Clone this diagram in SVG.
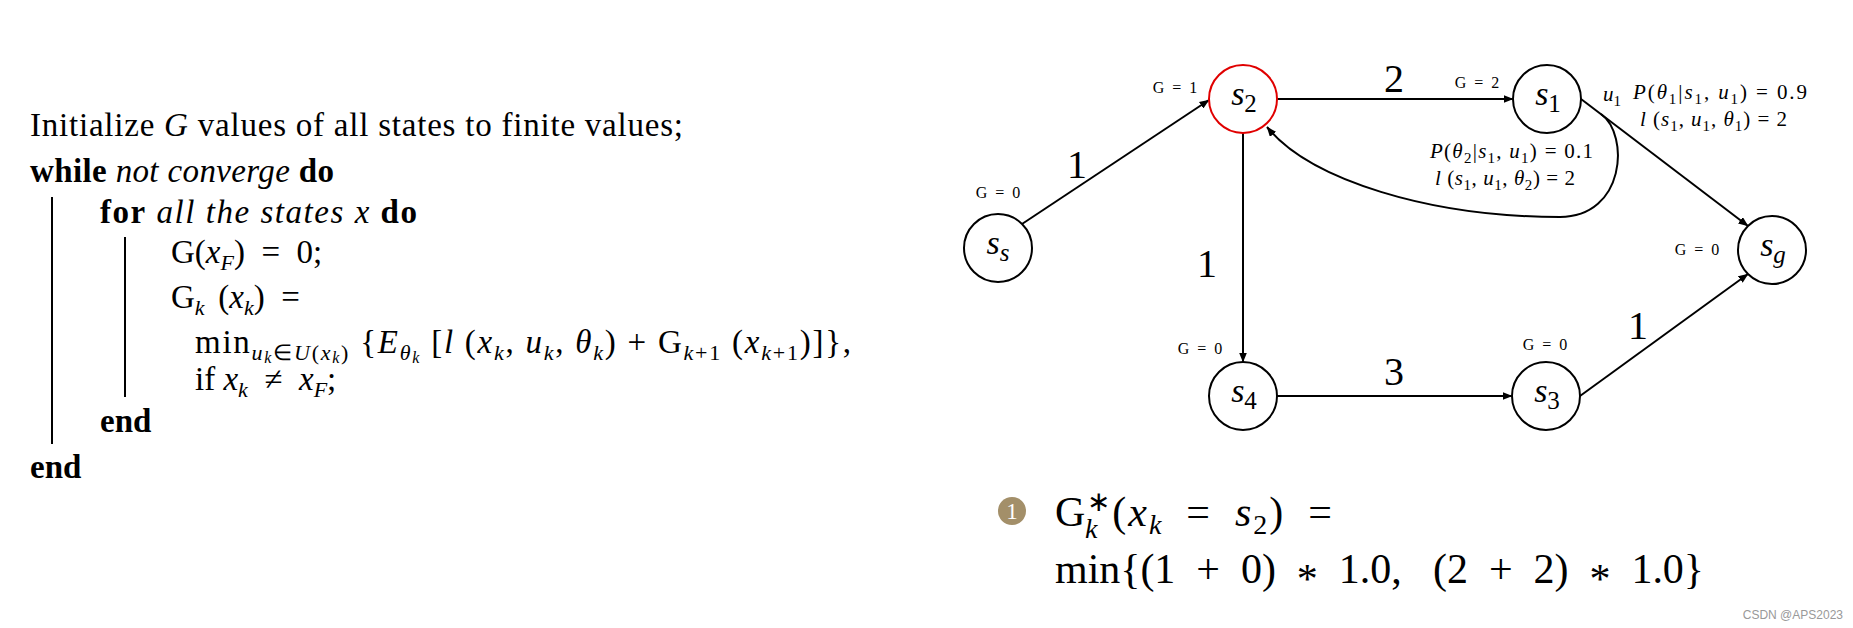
<svg xmlns="http://www.w3.org/2000/svg" width="1853" height="628" viewBox="0 0 1853 628">
<style>
text { font-family: "Liberation Serif", "Times New Roman", serif; fill: #000; }
.i { font-style: italic; }
.b { font-weight: bold; }
.alg { font-size: 33px; }
.w { font-size: 40px; }
.g { font-size: 16px; }
.p { font-size: 21px; }
.nl { font-size: 34px; }
.node circle { fill: #fff; stroke: #000; stroke-width: 2; }
.edge { stroke: #000; stroke-width: 2; fill: none; marker-end: url(#arr); }
.bar { stroke: #000; stroke-width: 2; }
</style>
<defs>
<marker id="arr" markerWidth="10" markerHeight="8" refX="9.5" refY="4" orient="auto" markerUnits="userSpaceOnUse">
<path d="M0,0 L10,4 L0,8 z" fill="#000"/>
</marker>
</defs>
<rect width="1853" height="628" fill="#fff"/>

<!-- Algorithm -->
<g id="algorithm" class="alg">
<text x="30" y="136" textLength="653" lengthAdjust="spacing">Initialize <tspan class="i">G</tspan> values of all states to finite values;</text>
<text x="30" y="182" textLength="304" lengthAdjust="spacing"><tspan class="b">while</tspan> <tspan class="i">not converge</tspan> <tspan class="b">do</tspan></text>
<text x="100" y="223" textLength="317" lengthAdjust="spacing"><tspan class="b">for</tspan> <tspan class="i">all the states x</tspan> <tspan class="b">do</tspan></text>
<text x="171" y="263">G(<tspan class="i">x</tspan><tspan class="i" font-size="22" dy="7">F</tspan><tspan dy="-7">)&#8194;=&#8194;0;</tspan></text>
<text x="171" y="308">G<tspan class="i" font-size="22" dy="7">k</tspan><tspan dy="-7">&#8197;&#8198;(</tspan><tspan class="i">x</tspan><tspan class="i" font-size="22" dy="7">k</tspan><tspan dy="-7">)&#8194;=</tspan></text>
<text x="195" y="353" textLength="656" lengthAdjust="spacing">min<tspan font-size="22" dy="7"><tspan class="i">u</tspan><tspan class="i" font-size="16" dy="3">k</tspan><tspan dy="-3">∈</tspan><tspan class="i">U</tspan>(<tspan class="i">x</tspan><tspan class="i" font-size="16" dy="3">k</tspan><tspan dy="-3">)</tspan></tspan><tspan dy="-7"> {</tspan><tspan class="i">E</tspan><tspan font-size="22" dy="7" class="i">θ<tspan font-size="16" dy="3">k</tspan></tspan><tspan dy="-10"> [</tspan><tspan class="i">l</tspan><tspan> (</tspan><tspan class="i">x</tspan><tspan class="i" font-size="22" dy="7">k</tspan><tspan dy="-7">, </tspan><tspan class="i">u</tspan><tspan class="i" font-size="22" dy="7">k</tspan><tspan dy="-7">, </tspan><tspan class="i">θ</tspan><tspan class="i" font-size="22" dy="7">k</tspan><tspan dy="-7">)&#8197;+&#8197;G</tspan><tspan font-size="22" dy="7"><tspan class="i">k</tspan>+1</tspan><tspan dy="-7"> (</tspan><tspan class="i">x</tspan><tspan font-size="22" dy="7"><tspan class="i">k</tspan>+1</tspan><tspan dy="-7">)]},</tspan></text>
<text x="195" y="390">if <tspan class="i">x</tspan><tspan class="i" font-size="22" dy="7">k</tspan><tspan dy="-7">&#8194;≠&#8194;</tspan><tspan class="i">x</tspan><tspan class="i" font-size="22" dy="7">F</tspan><tspan dy="-7">;</tspan></text>
<text x="100" y="432" class="b">end</text>
<text x="30" y="478" class="b">end</text>
<line class="bar" x1="52" y1="197" x2="52" y2="444"/>
<line class="bar" x1="125" y1="237" x2="125" y2="397"/>
</g>

<!-- Connectors -->
<g id="connectors">
<path class="edge" d="M1022,224 L1209,100"/>
<path class="edge" d="M1277,99 L1513,99"/>
<path class="edge" d="M1243,133 L1243,362"/>
<path class="edge" d="M1277,396 L1512,396"/>
<path class="edge" d="M1580,396 L1748,274"/>
<path class="edge" d="M1581,99 L1748,226"/>
<path class="edge" d="M1601,114 C1630,135 1625,217 1560,217 C1430,217 1310,180 1267,127"/>
<text class="w" x="1077" y="178" text-anchor="middle">1</text>
<text class="w" x="1394" y="92" text-anchor="middle">2</text>
<text class="w" x="1207" y="277" text-anchor="middle">1</text>
<text class="w" x="1394" y="385" text-anchor="middle">3</text>
<text class="w" x="1638" y="339" text-anchor="middle">1</text>
<text class="p" x="1603" y="101"><tspan class="i">u</tspan><tspan font-size="15" dy="5">1</tspan></text>
<text class="p" x="1633" y="99" textLength="174" lengthAdjust="spacing"><tspan class="i">P</tspan>(<tspan class="i">θ</tspan><tspan font-size="15" dy="5">1</tspan><tspan dy="-5">|</tspan><tspan class="i">s</tspan><tspan font-size="15" dy="5">1</tspan><tspan dy="-5">, </tspan><tspan class="i">u</tspan><tspan font-size="15" dy="5">1</tspan><tspan dy="-5">)&#8197;=&#8197;0.9</tspan></text>
<text class="p" x="1640" y="126" textLength="147" lengthAdjust="spacing"><tspan class="i">l</tspan>&#8197;(<tspan class="i">s</tspan><tspan font-size="15" dy="5">1</tspan><tspan dy="-5">, </tspan><tspan class="i">u</tspan><tspan font-size="15" dy="5">1</tspan><tspan dy="-5">, </tspan><tspan class="i">θ</tspan><tspan font-size="15" dy="5">1</tspan><tspan dy="-5">)&#8197;=&#8197;2</tspan></text>
<text class="p" x="1430" y="158" textLength="163" lengthAdjust="spacing"><tspan class="i">P</tspan>(<tspan class="i">θ</tspan><tspan font-size="15" dy="5">2</tspan><tspan dy="-5">|</tspan><tspan class="i">s</tspan><tspan font-size="15" dy="5">1</tspan><tspan dy="-5">, </tspan><tspan class="i">u</tspan><tspan font-size="15" dy="5">1</tspan><tspan dy="-5">)&#8197;=&#8197;0.1</tspan></text>
<text class="p" x="1435" y="185" textLength="140" lengthAdjust="spacing"><tspan class="i">l</tspan>&#8197;(<tspan class="i">s</tspan><tspan font-size="15" dy="5">1</tspan><tspan dy="-5">, </tspan><tspan class="i">u</tspan><tspan font-size="15" dy="5">1</tspan><tspan dy="-5">, </tspan><tspan class="i">θ</tspan><tspan font-size="15" dy="5">2</tspan><tspan dy="-5">)&#8197;=&#8197;2</tspan></text>
</g>

<!-- Nodes -->
<g id="node-ss" class="node">
<circle cx="998" cy="248" r="34"/>
<text class="nl" x="998" y="254" text-anchor="middle"><tspan class="i">s</tspan><tspan class="i" font-size="25" dy="7">s</tspan></text>
<text class="g" x="998" y="198" text-anchor="middle">G&#8194;=&#8194;0</text>
</g>
<g id="node-s2" class="node">
<circle cx="1243" cy="99" r="34" style="stroke:#e00000"/>
<text class="nl" x="1244" y="105" text-anchor="middle"><tspan class="i">s</tspan><tspan font-size="25" dy="7">2</tspan></text>
<text class="g" x="1175" y="93" text-anchor="middle">G&#8194;=&#8194;1</text>
</g>
<g id="node-s1" class="node">
<circle cx="1547" cy="99" r="34"/>
<text class="nl" x="1548" y="105" text-anchor="middle"><tspan class="i">s</tspan><tspan font-size="25" dy="7">1</tspan></text>
<text class="g" x="1477" y="88" text-anchor="middle">G&#8194;=&#8194;2</text>
</g>
<g id="node-sg" class="node">
<circle cx="1772" cy="250" r="34"/>
<text class="nl" x="1773" y="256" text-anchor="middle"><tspan class="i">s</tspan><tspan class="i" font-size="25" dy="7">g</tspan></text>
<text class="g" x="1697" y="255" text-anchor="middle">G&#8194;=&#8194;0</text>
</g>
<g id="node-s4" class="node">
<circle cx="1243" cy="396" r="34"/>
<text class="nl" x="1244" y="402" text-anchor="middle"><tspan class="i">s</tspan><tspan font-size="25" dy="7">4</tspan></text>
<text class="g" x="1200" y="354" text-anchor="middle">G&#8194;=&#8194;0</text>
</g>
<g id="node-s3" class="node">
<circle cx="1546" cy="396" r="34"/>
<text class="nl" x="1547" y="402" text-anchor="middle"><tspan class="i">s</tspan><tspan font-size="25" dy="7">3</tspan></text>
<text class="g" x="1545" y="350" text-anchor="middle">G&#8194;=&#8194;0</text>
</g>

<!-- Bottom formula -->
<g id="formula">
<circle cx="1012" cy="511" r="14" fill="#a38f69"/>
<text x="1012" y="519" font-size="23" text-anchor="middle" style="fill:#fff">1</text>
<text x="1055" y="526" font-size="42" textLength="277" lengthAdjust="spacing">G<tspan font-size="28" dy="-15">∗</tspan><tspan dy="15">(</tspan><tspan class="i">x</tspan><tspan class="i" font-size="28" dy="8">k</tspan><tspan dy="-8">&#8194;=&#8194;</tspan><tspan class="i">s</tspan><tspan font-size="28" dy="8">2</tspan><tspan dy="-8">)&#8194;=</tspan></text>
<text x="1085" y="538" font-size="28" class="i">k</text>
<text x="1055" y="583" font-size="42" textLength="649" lengthAdjust="spacing">min{(1&#8194;+&#8194;0)&#8194;<tspan dy="10">*</tspan><tspan dy="-10">&#8194;1.0,&#8194;&#8197;(2&#8194;+&#8194;2)&#8194;</tspan><tspan dy="10">*</tspan><tspan dy="-10">&#8194;1.0}</tspan></text>
</g>

<text x="1843" y="619" font-size="12" text-anchor="end" style="fill:#999;font-family:'Liberation Sans',sans-serif">CSDN @APS2023</text>
</svg>
